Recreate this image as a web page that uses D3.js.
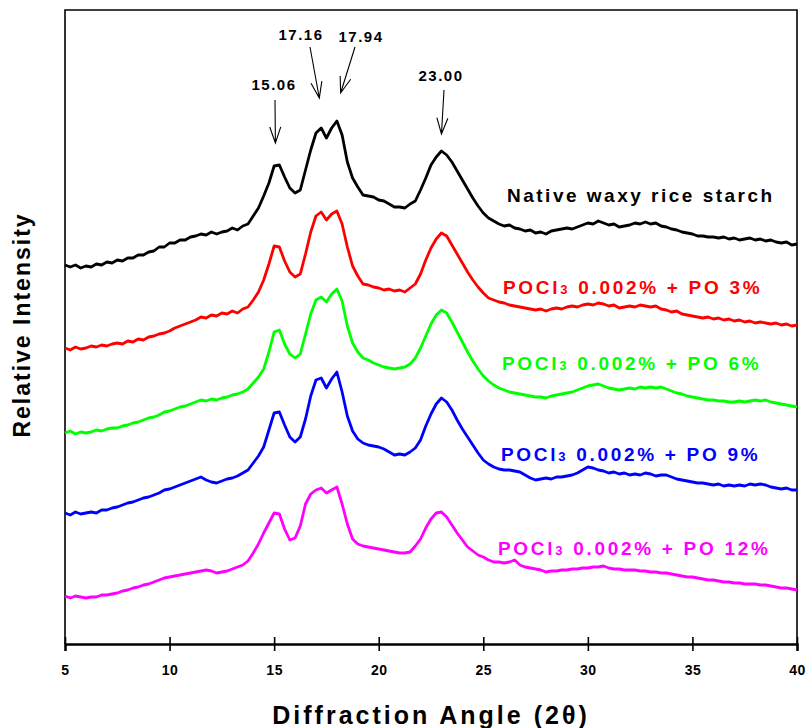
<!DOCTYPE html>
<html>
<head>
<meta charset="utf-8">
<script src="https://cdn.jsdelivr.net/npm/d3@7"></script>
<style>
  body { margin: 0; background: #fff; }
  text { font-family: "Liberation Sans", Arial, sans-serif; font-weight: bold; }
</style>
</head>
<body>
<svg id="svg" width="807" height="728"></svg>
<script>
// 2-theta grid, 5 to 40 every 0.25 deg
const angleStart = 5, angleStep = 0.25

// stacked relative intensity (a.u.)
const nativeWaxy = [379,377,379,376,378,377,380,379,382,381,384,383,386,386,389,389,392,393,397,397,
  401,401,404,404,407,408,410,409,412,410,412,413,416,414,418,420,428,436,448,461,
  478,479,467,456,451,454,474,494,511,516,506,516,523,509,482,466,457,449,448,447,
  444,443,440,437,437,436,440,443,454,466,479,487,493,489,482,473,464,455,446,438,
  431,426,423,420,418,419,416,415,413,414,411,412,410,413,414,415,416,415,417,419,
  421,420,423,421,419,420,417,418,419,421,420,422,420,421,418,417,415,414,412,411,
  410,408,408,407,407,406,407,405,406,404,405,406,404,405,403,404,402,401,402,399,400]

const po3 = [296,294,297,295,296,298,297,299,298,300,301,300,303,302,305,304,307,308,310,311,
  313,316,318,320,322,324,327,326,329,328,331,330,333,331,335,337,344,352,364,380,
  398,397,383,372,367,370,390,412,428,432,424,430,433,420,397,378,368,360,359,357,
  356,354,355,353,354,352,356,360,370,384,396,405,411,408,399,390,381,372,364,357,
  351,346,344,342,341,339,338,337,336,335,334,335,333,335,336,335,337,338,337,339,
  340,339,341,340,338,339,336,337,338,337,339,338,337,338,335,334,332,333,330,329,
  328,327,326,327,325,326,324,325,323,324,322,323,321,322,321,320,321,319,320,318,319]

const po6 = [211,213,210,212,211,212,214,213,215,216,216,218,219,221,222,224,226,227,229,232,
  233,235,237,238,240,242,244,243,245,244,246,247,249,250,252,255,261,267,275,292,
  312,314,300,290,286,290,310,330,344,347,342,350,355,343,318,301,292,286,284,281,
  279,277,276,275,276,277,280,286,296,308,320,329,334,331,322,312,302,292,283,275,
  268,263,259,256,254,252,251,250,249,248,247,247,246,248,249,250,251,252,254,256,
  258,259,260,258,256,255,254,255,256,255,257,256,257,256,257,255,253,251,250,248,
  247,246,245,244,244,243,243,242,242,243,242,243,244,243,244,242,241,240,239,238,237]

const po9 = [131,129,132,130,131,132,131,134,134,136,137,139,141,142,144,146,147,149,151,154,
  155,157,159,161,163,165,167,164,162,161,163,165,166,168,171,174,181,188,197,214,
  231,232,219,207,202,207,225,248,264,266,256,265,272,252,228,213,205,201,199,198,
  197,195,192,189,190,189,192,196,204,218,230,240,246,242,234,224,215,207,199,191,
  184,180,177,175,174,174,173,172,169,166,164,165,166,165,167,167,168,169,171,174,
  177,176,174,173,171,172,170,171,169,170,169,171,170,168,169,169,167,165,164,163,
  162,161,161,160,159,160,158,159,158,159,158,160,159,160,159,157,156,155,156,154,154]

const po12 = [48,46,48,47,46,47,47,49,49,50,51,53,54,56,57,59,60,62,64,66,
  67,68,69,70,71,72,73,74,73,71,72,73,75,77,79,83,91,100,111,121,
  131,130,115,104,106,118,140,150,154,156,151,154,157,140,120,105,100,98,97,96,
  95,94,93,92,91,91,92,98,105,116,125,131,132,127,119,111,104,97,93,89,
  87,84,82,82,81,82,84,79,77,76,75,74,72,73,73,74,74,75,75,76,
  76,77,77,78,76,75,75,74,74,74,73,73,72,72,71,71,70,69,68,67,
  67,66,65,64,64,63,62,62,61,61,60,60,60,59,59,58,57,56,56,55,54]

const seriesNames = ['Native waxy rice starch', 'POCl3 0.002% + PO 3%', 'POCl3 0.002% + PO 6%',
  'POCl3 0.002% + PO 9%', 'POCl3 0.002% + PO 12%']
const seriesColors = ['#000000', '#ff0000', '#00ff00', '#0000ff', '#ff00ff']
const seriesValues = [nativeWaxy, po3, po6, po9, po12]

const peakAngles = [15.06, 17.16, 17.94, 23.00]
const peakLabels = ['15.06', '17.16', '17.94', '23.00']
const xTicks = [5, 10, 15, 20, 25, 30, 35, 40]

const svg = d3.select('#svg')
const marginLeft = 65, marginRight = 10, marginTop = 10, marginBottom = 84
const width = 807, height = 728

const x = d3.scaleLinear().domain([5, 40]).range([marginLeft, width - marginRight])
const y = d3.scaleLinear().domain([0, 634]).range([height - marginBottom, marginTop])

// frame: top, left, right
svg.append('path')
    .attr('d', `M${x(5)},${y(0)}V${y(634)}H${x(40)}V${y(0)}`)
    .attr('fill', 'none')
    .style('stroke', '#000')
    .style('stroke-width', 1.6)

// bottom axis
const xAxis = svg.append('g')
    .attr('transform', `translate(0,${y(0)})`)
    .call(d3.axisBottom(x).tickValues(xTicks).tickSize(7).tickPadding(14).tickFormat(d3.format('d')))
xAxis.select('.domain').style('stroke-width', 2.4)
xAxis.selectAll('.tick line').attr('y1', -7).style('stroke-width', 1.6)
xAxis.selectAll('.tick text')
    .style('font-family', '"Liberation Sans", Arial, sans-serif')
    .style('font-weight', 'bold')
    .style('font-size', '14px')
    .style('letter-spacing', '0.5px')

svg.append('text')
    .attr('x', 431)
    .attr('y', 724)
    .attr('text-anchor', 'middle')
    .style('font-size', '25px')
    .style('letter-spacing', '3px')
    .text('Diffraction Angle (2θ)')

svg.append('text')
    .attr('transform', 'translate(30,325) rotate(-90)')
    .attr('text-anchor', 'middle')
    .style('font-size', '23px')
    .style('letter-spacing', '2px')
    .text('Relative Intensity')

// curves
const line = d3.line()
    .x((d, i) => x(angleStart + i * angleStep))
    .y(d => y(d))

svg.selectAll('.curve')
    .data(seriesValues)
    .enter()
    .append('path')
        .attr('class', 'curve')
        .attr('d', d => line(d))
        .attr('fill', 'none')
        .style('stroke', (d, i) => seriesColors[i])
        .style('stroke-width', 2.8)
        .style('stroke-linejoin', 'round')

// series labels
const labelY = [202, 294, 370, 461, 555]
const labelX = [507, 503, 502, 501, 498]
seriesNames.forEach((name, i) => {
    const t = svg.append('text')
        .attr('x', labelX[i])
        .attr('y', labelY[i])
        .style('font-size', '19px')
        .style('letter-spacing', i == 0 ? '2.5px' : '2.7px')
        .style('fill', seriesColors[i])
    if (i == 0) {
        t.text(name)
    } else {
        t.append('tspan').text('POCl')
        t.append('tspan').style('font-size', '13px').text('3')
        t.append('tspan').text(name.slice(5))
    }
})

// peak arrows: label centre, tail and tip offsets
const arrowTail = [[275, 100], [310, 47], [355, 47], [444, 90]]
const arrowTip = [[0, 143], [0, 98], [5, 93], [0, 134]]
const labelPos = [[274, 90], [301, 40], [361, 42], [441, 81]]

peakAngles.forEach((p, i) => {
    const tx = x(p) + arrowTip[i][0], ty = arrowTip[i][1]
    const sx = arrowTail[i][0], sy = arrowTail[i][1]
    const ang = Math.atan2(ty - sy, tx - sx)
    const hl = 17, ha = 0.33
    svg.append('path')
        .attr('d', `M${sx},${sy}L${tx},${ty}` +
            `M${tx - hl * Math.cos(ang - ha)},${ty - hl * Math.sin(ang - ha)}L${tx},${ty}` +
            `L${tx - hl * Math.cos(ang + ha)},${ty - hl * Math.sin(ang + ha)}`)
        .attr('fill', 'none')
        .style('stroke', '#000')
        .style('stroke-width', 1.1)
    svg.append('text')
        .attr('x', labelPos[i][0])
        .attr('y', labelPos[i][1])
        .attr('text-anchor', 'middle')
        .style('font-size', '15px')
        .style('letter-spacing', '1.5px')
        .text(peakLabels[i])
})
</script>
</body>
</html>
